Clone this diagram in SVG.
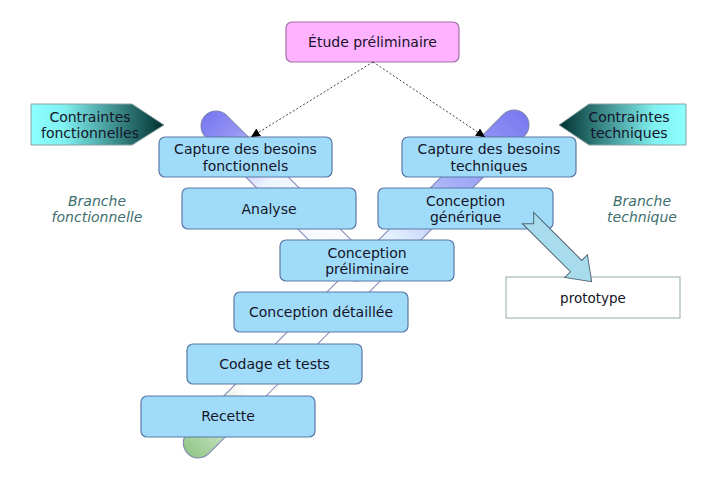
<svg xmlns="http://www.w3.org/2000/svg" width="719" height="486" viewBox="0 0 719 486">
<style>
  .box { fill: #a0dcfa; stroke: #5a78a6; stroke-width: 1.2; }
  .txt { font-family: "DejaVu Sans", Verdana, sans-serif; font-size: 14px; fill: #141428; text-anchor: middle; }
  .branch { font-family: "DejaVu Sans", Verdana, sans-serif; font-size: 14px; font-style: italic; fill: #3e6e6e; text-anchor: middle; }
  .band { stroke: #7d84b0; stroke-width: 1; }
  .dot { fill: none; stroke: #444; stroke-width: 1; stroke-dasharray: 2 2; }
</style>
<defs>
  <linearGradient id="gLong" gradientUnits="userSpaceOnUse" x1="-15" y1="0" x2="463" y2="0">
    <stop offset="0" stop-color="#7a7af0"/>
    <stop offset="0.22" stop-color="#aab2f8"/>
    <stop offset="0.38" stop-color="#e4f2ff"/>
    <stop offset="0.5" stop-color="#ffffff"/>
    <stop offset="0.82" stop-color="#ffffff"/>
    <stop offset="1" stop-color="#92c688"/>
  </linearGradient>
  <linearGradient id="gLeft" gradientUnits="userSpaceOnUse" x1="-15" y1="0" x2="213" y2="0">
    <stop offset="0" stop-color="#7878f0"/>
    <stop offset="0.15" stop-color="#9696f4"/>
    <stop offset="0.4" stop-color="#eef4ff"/>
    <stop offset="1" stop-color="#ffffff"/>
  </linearGradient>
  <linearGradient id="gCF" x1="0" y1="0" x2="1" y2="0">
    <stop offset="0" stop-color="#8cffff"/>
    <stop offset="0.25" stop-color="#80f0f0"/>
    <stop offset="1" stop-color="#003030"/>
  </linearGradient>
  <linearGradient id="gCT" x1="1" y1="0" x2="0" y2="0">
    <stop offset="0" stop-color="#8cffff"/>
    <stop offset="0.25" stop-color="#80f0f0"/>
    <stop offset="1" stop-color="#003030"/>
  </linearGradient>
  <marker id="ah" viewBox="0 0 10 10" refX="10" refY="5" markerWidth="9" markerHeight="9" markerUnits="userSpaceOnUse" orient="auto">
    <path d="M0,0 L10,5 L0,10 Z" fill="#000"/>
  </marker>
</defs>

<g id="bands">
  <rect class="band" transform="translate(514,125) rotate(134.8)" x="-15" y="-15" width="478" height="30" rx="15" fill="url(#gLong)"/>
  <rect class="band" transform="translate(216,126) rotate(45)" x="-15" y="-15" width="228" height="30" rx="15" fill="url(#gLeft)"/>
</g>

<g id="etude">
  <rect x="286" y="22" width="173" height="40" rx="6" fill="#ffb2ff" stroke="#a070a8" stroke-width="1.2"/>
  <text class="txt" x="372.5" y="47">Étude préliminaire</text>
</g>

<g id="contraintes-fonctionnelles">
  <polygon points="31,104 132,104 164,125 132,145 31,145" fill="url(#gCF)" stroke="#8aa0a0" stroke-width="1"/>
  <text class="txt" x="90" y="122">Contraintes</text>
  <text class="txt" x="90" y="138">fonctionnelles</text>
</g>

<g id="contraintes-techniques">
  <polygon points="686,104 589,104 559,125 589,145 686,145" fill="url(#gCT)" stroke="#8aa0a0" stroke-width="1"/>
  <text class="txt" x="629" y="122">Contraintes</text>
  <text class="txt" x="629" y="138">techniques</text>
</g>

<g id="branche-fonctionnelle">
  <text class="branch" x="97" y="206">Branche</text>
  <text class="branch" x="97" y="222">fonctionnelle</text>
</g>

<g id="branche-technique">
  <text class="branch" x="642" y="206">Branche</text>
  <text class="branch" x="642" y="222">technique</text>
</g>

<g id="capture-fonctionnels">
  <rect class="box" x="159" y="137" width="173" height="40" rx="6"/>
  <text class="txt" x="245.5" y="154">Capture des besoins</text>
  <text class="txt" x="245.5" y="171">fonctionnels</text>
</g>

<g id="capture-techniques">
  <rect class="box" x="402" y="137" width="174" height="40" rx="6"/>
  <text class="txt" x="489" y="154">Capture des besoins</text>
  <text class="txt" x="489" y="171">techniques</text>
</g>

<g id="analyse">
  <rect class="box" x="182" y="188" width="174" height="41" rx="6"/>
  <text class="txt" x="269" y="214">Analyse</text>
</g>

<g id="conception-generique">
  <rect class="box" x="378" y="188" width="175" height="41" rx="6"/>
  <text class="txt" x="465.5" y="206">Conception</text>
  <text class="txt" x="465.5" y="222">générique</text>
</g>

<g id="conception-preliminaire">
  <rect class="box" x="280" y="240" width="174" height="41" rx="6"/>
  <text class="txt" x="367" y="258">Conception</text>
  <text class="txt" x="367" y="274">préliminaire</text>
</g>

<g id="conception-detaillee">
  <rect class="box" x="234" y="292" width="174" height="40" rx="6"/>
  <text class="txt" x="321" y="317">Conception détaillée</text>
</g>

<g id="codage">
  <rect class="box" x="187" y="344" width="175" height="40" rx="6"/>
  <text class="txt" x="274.5" y="369">Codage et tests</text>
</g>

<g id="recette">
  <rect class="box" x="141" y="396" width="174" height="41" rx="6"/>
  <text class="txt" x="228" y="421">Recette</text>
</g>

<g id="prototype">
  <rect x="506" y="277" width="174" height="41" fill="#ffffff" stroke="#94aca4" stroke-width="1"/>
  <text class="txt" x="593" y="303" style="font-size:13.5px">prototype</text>
</g>

<g id="connectors">
  <line class="dot" x1="373" y1="62" x2="251" y2="137" marker-end="url(#ah)"/>
  <line class="dot" x1="373" y1="62" x2="485" y2="137" marker-end="url(#ah)"/>
  <polygon transform="translate(528,218) rotate(45)" points="0,-8 68,-8 68,-16 90,0 68,16 68,8 0,8 8,0" fill="#a8dcec" stroke="#506878" stroke-width="1"/>
</g>
</svg>
